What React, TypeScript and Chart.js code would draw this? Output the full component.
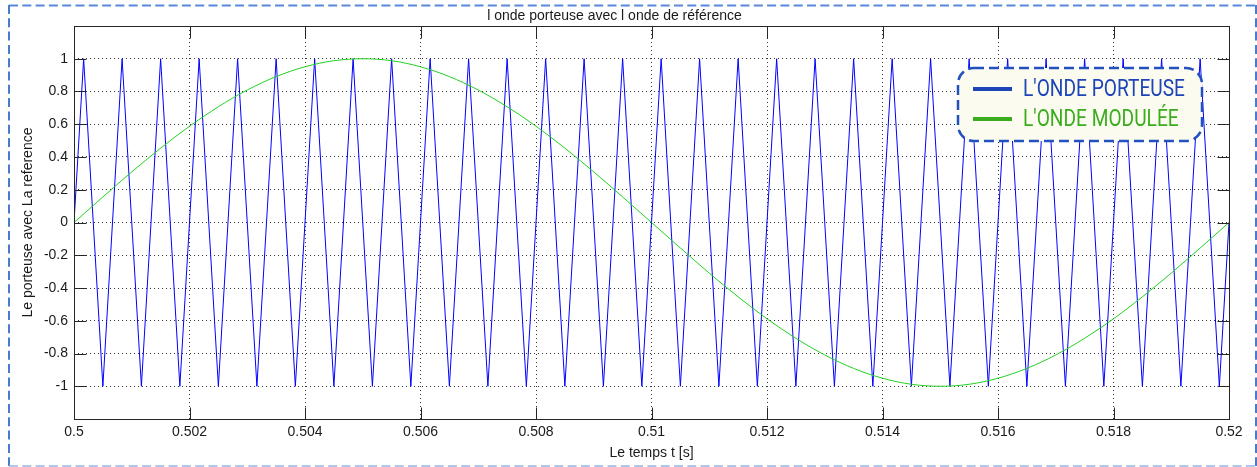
import React, { useEffect, useRef } from 'react';
import { Chart, registerables } from 'chart.js';

Chart.register(...registerables);

// ---------- Data ----------
const carrierTimes = [
  0.5,
  0.500167, 0.5005, 0.500833,
  0.501167, 0.5015, 0.501833,
  0.502167, 0.5025, 0.502833,
  0.503167, 0.5035, 0.503833,
  0.504167, 0.5045, 0.504833,
  0.505167, 0.5055, 0.505833,
  0.506167, 0.5065, 0.506833,
  0.507167, 0.5075, 0.507833,
  0.508167, 0.5085, 0.508833,
  0.509167, 0.5095, 0.509833,
  0.510167, 0.5105, 0.510833,
  0.511167, 0.5115, 0.511833,
  0.512167, 0.5125, 0.512833,
  0.513167, 0.5135, 0.513833,
  0.514167, 0.5145, 0.514833,
  0.515167, 0.5155, 0.515833,
  0.516167, 0.5165, 0.516833,
  0.517167, 0.5175, 0.517833,
  0.518167, 0.5185, 0.518833,
  0.519167, 0.5195, 0.519833,
  0.52,
];
const carrierValues = [
  0,
  1, -1, 1,
  -1, 1, -1,
  1, -1, 1,
  -1, 1, -1,
  1, -1, 1,
  -1, 1, -1,
  1, -1, 1,
  -1, 1, -1,
  1, -1, 1,
  -1, 1, -1,
  1, -1, 1,
  -1, 1, -1,
  1, -1, 1,
  -1, 1, -1,
  1, -1, 1,
  -1, 1, -1,
  1, -1, 1,
  -1, 1, -1,
  1, -1, 1,
  -1, 1, -1,
  0,
];

const modTimes = [
  0.5, 0.5005, 0.501, 0.5015, 0.502, 0.5025, 0.503, 0.5035, 0.504, 0.5045,
  0.505, 0.5055, 0.506, 0.5065, 0.507, 0.5075, 0.508, 0.5085, 0.509, 0.5095,
  0.51, 0.5105, 0.511, 0.5115, 0.512, 0.5125, 0.513, 0.5135, 0.514, 0.5145,
  0.515, 0.5155, 0.516, 0.5165, 0.517, 0.5175, 0.518, 0.5185, 0.519, 0.5195,
  0.52,
];
const modValues = [
  0, 0.156, 0.309, 0.454, 0.588, 0.707, 0.809, 0.891, 0.951, 0.988,
  1, 0.988, 0.951, 0.891, 0.809, 0.707, 0.588, 0.454, 0.309, 0.156,
  0, -0.156, -0.309, -0.454, -0.588, -0.707, -0.809, -0.891, -0.951, -0.988,
  -1, -0.988, -0.951, -0.891, -0.809, -0.707, -0.588, -0.454, -0.309, -0.156,
  0,
];

const xTickValues = [0.5, 0.502, 0.504, 0.506, 0.508, 0.51, 0.512, 0.514, 0.516, 0.518, 0.52];
const yTickValues = [-1, -0.8, -0.6, -0.4, -0.2, 0, 0.2, 0.4, 0.6, 0.8, 1];

const seriesLabels = ["L'ONDE PORTEUSE", "L'ONDE MODULÉE"];
const legendColors = ['#1d44b8', '#3aad1d'];
const titleText = 'l onde porteuse avec l onde de référence';
const xLabel = 'Le temps t [s]';
const yLabel = 'Le porteuse avec La reference';

const fmt = (v: number) => String(Number(Number(v).toFixed(4)));

// ---------- Plugins ----------
const framePlugin = {
  id: 'matlabFrame',
  afterDatasetsDraw(chart: any) {
    const { ctx, chartArea: a, scales } = chart;
    ctx.save();
    ctx.strokeStyle = '#262626';
    ctx.lineWidth = 1;
    const L = Math.round(a.left) + 0.5;
    const R = Math.round(a.right) + 0.5;
    const T = Math.round(a.top) + 0.5;
    const B = Math.round(a.bottom) + 0.5;
    ctx.strokeRect(L, T, R - L, B - T);
    ctx.beginPath();
    for (const v of xTickValues) {
      const x = Math.round(scales.x.getPixelForValue(v)) + 0.5;
      ctx.moveTo(x, B); ctx.lineTo(x, B - 12);
      ctx.moveTo(x, T); ctx.lineTo(x, T + 12);
    }
    for (const v of yTickValues) {
      const y = Math.round(scales.y.getPixelForValue(v)) + 0.5;
      ctx.moveTo(L, y); ctx.lineTo(L + 12, y);
      ctx.moveTo(R, y); ctx.lineTo(R - 12, y);
    }
    ctx.stroke();
    ctx.restore();
  },
};

const legendPlugin = {
  id: 'boxedLegend',
  afterDraw(chart: any) {
    const { ctx, chartArea: a } = chart;
    const w = 244, h = 73;
    const x = a.right - 27 - w;
    const y = a.top + 42;
    ctx.save();
    ctx.beginPath();
    ctx.roundRect(x, y, w, h, 16);
    ctx.fillStyle = '#fbfcef';
    ctx.fill();
    ctx.setLineDash([10, 5]);
    ctx.lineWidth = 2.5;
    ctx.strokeStyle = '#2350c0';
    ctx.stroke();
    ctx.setLineDash([]);
    ctx.font = '23px Roboto';
    const sx = 162 / ctx.measureText(chart.data.datasets[0].label).width;
    chart.data.datasets.forEach((ds: any, i: number) => {
      const cy = y + 21 + i * 30;
      ctx.strokeStyle = legendColors[i];
      ctx.lineWidth = 4;
      ctx.beginPath();
      ctx.moveTo(x + 15, cy);
      ctx.lineTo(x + 54, cy);
      ctx.stroke();
      ctx.fillStyle = legendColors[i];
      ctx.textBaseline = 'middle';
      ctx.textAlign = 'left';
      ctx.save();
      ctx.translate(x + 65, cy + 1);
      ctx.scale(sx, 1);
      ctx.fillText(ds.label, 0, 0);
      ctx.restore();
    });
    ctx.restore();
  },
};

const outerBorderPlugin = {
  id: 'outerBorder',
  afterDraw(chart: any) {
    const { ctx, width, height } = chart;
    ctx.save();
    ctx.setLineDash([9, 4.3]);
    // top
    ctx.strokeStyle = '#5a88d8';
    ctx.lineWidth = 2;
    ctx.beginPath(); ctx.moveTo(9, 5.5); ctx.lineTo(width - 1, 5.5); ctx.stroke();
    // left / right
    ctx.strokeStyle = '#4a7bd0';
    ctx.beginPath(); ctx.moveTo(9, 5); ctx.lineTo(9, height - 1); ctx.stroke();
    ctx.beginPath(); ctx.moveTo(width - 1, 5); ctx.lineTo(width - 1, height - 1); ctx.stroke();
    // bottom
    ctx.strokeStyle = '#98b4e6';
    ctx.lineWidth = 1.5;
    ctx.beginPath(); ctx.moveTo(9, height - 1); ctx.lineTo(width - 1, height - 1); ctx.stroke();
    ctx.restore();
  },
};

export default function App() {
  const canvasRef = useRef<HTMLCanvasElement | null>(null);

  useEffect(() => {
    if (!canvasRef.current) return;
    Chart.defaults.font.family = "'Liberation Sans', Arial, sans-serif";
    Chart.defaults.color = '#1a1a1a';
    const textFont = { family: "'Liberation Sans', Arial, sans-serif", size: 14, weight: 'normal' as const };

    const chart = new Chart(canvasRef.current, {
      type: 'line',
      data: {
        datasets: [
          {
            label: seriesLabels[0],
            data: carrierTimes.map((t, i) => ({ x: t, y: carrierValues[i] })),
            borderColor: '#0000ff',
            borderWidth: 1,
            pointRadius: 0,
            tension: 0,
            order: 2,
          },
          {
            label: seriesLabels[1],
            data: modTimes.map((t, i) => ({ x: t, y: modValues[i] })),
            borderColor: '#22d022',
            borderWidth: 1,
            pointRadius: 0,
            cubicInterpolationMode: 'monotone',
            order: 1,
          },
        ],
      },
      options: {
        responsive: false,
        animation: false,
        layout: { padding: { left: 0, right: 28, top: 0, bottom: 0 } },
        plugins: {
          legend: { display: false },
          tooltip: { enabled: false },
          title: {
            display: true,
            text: titleText,
            font: textFont,
            color: '#1a1a1a',
            padding: { top: 7.6, bottom: 1.6 },
          },
        },
        scales: {
          x: {
            type: 'linear',
            min: 0.5,
            max: 0.52,
            afterBuildTicks: (s: any) => { s.ticks = xTickValues.map((v) => ({ value: v })); },
            afterFit: (s: any) => { s.height = 48; },
            ticks: {
              autoSkip: false,
              maxRotation: 0,
              padding: 5,
              font: textFont,
              color: '#1a1a1a',
              callback: (v: any) => fmt(v),
            },
            grid: { color: '#333333', lineWidth: 1, drawTicks: false },
            border: { display: false, dash: [1, 3] },
            title: {
              display: true,
              text: xLabel,
              font: textFont,
              color: '#1a1a1a',
              padding: { top: 0, bottom: 5.6 },
            },
          },
          y: {
            type: 'linear',
            min: -1.2,
            max: 1.2,
            afterBuildTicks: (s: any) => { s.ticks = yTickValues.map((v) => ({ value: v })); },
            afterFit: (s: any) => { s.width = 74; },
            ticks: {
              autoSkip: false,
              padding: 6,
              font: textFont,
              color: '#1a1a1a',
              callback: (v: any) => fmt(v),
            },
            grid: { color: '#333333', lineWidth: 1, drawTicks: false },
            border: { display: false, dash: [1, 3] },
            title: {
              display: true,
              text: yLabel,
              font: textFont,
              color: '#1a1a1a',
              padding: { top: 19.6, bottom: 0 },
            },
          },
        },
      },
      plugins: [framePlugin, legendPlugin, outerBorderPlugin],
    } as any);

    return () => chart.destroy();
  }, []);

  return (
    <div style={{ position: 'fixed', left: 0, top: 0, width: 1257, height: 467, background: '#ffffff' }}>
      <canvas ref={canvasRef} width={1257} height={467} style={{ display: 'block' }} />
    </div>
  );
}
